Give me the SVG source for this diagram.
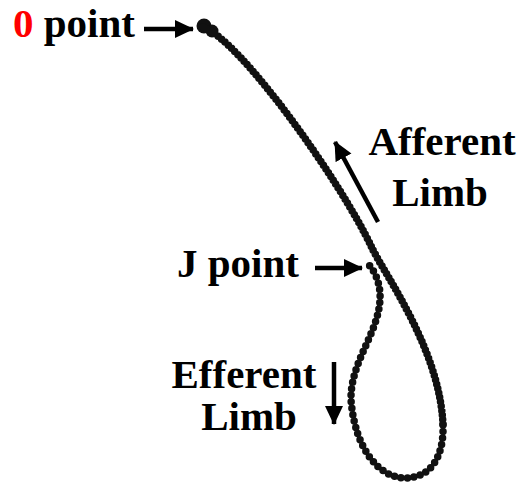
<svg xmlns="http://www.w3.org/2000/svg" width="528" height="492" viewBox="0 0 528 492">
<style>
.lbl{font-family:"Liberation Serif","Times New Roman",serif;font-weight:bold;font-size:41px;fill:#000}
.red{fill:#ff0000}
.arr{stroke:#000;stroke-width:4.5;fill:none}
.trace{fill:none;stroke:#111;stroke-linecap:round;stroke-linejoin:round}
</style>
<defs>
<marker id="ah" markerUnits="userSpaceOnUse" markerWidth="20" markerHeight="20" viewBox="0 0 20 20" refX="18" refY="10" orient="auto">
<path d="M0,1 L19,10 L0,19 Z" fill="#000"/>
</marker>
</defs>
<rect width="528" height="492" fill="#fff"/>
<g id="trace">
<circle cx="204" cy="26" r="7.5" fill="#111"/>
<circle cx="212" cy="31" r="6.5" fill="#111"/>
<path class="trace" stroke-width="7.5" stroke-dasharray="0 4.5" d="M203,27 C240,40 340,180 372,248 C385,275 440,350 443,425"/>
<path class="trace" stroke-width="7.5" stroke-dasharray="0 6.5" d="M443,425 C444,455 432,478 405,478 C380,478 355,450 351,400 C350,360 382,330 380,293 C379,280 374,270 368,264"/>
</g>
<g id="zero-point">
<text class="lbl" x="13" y="37"><tspan class="red">0</tspan> point</text>
</g>
<g id="afferent-limb">
<text class="lbl" x="442" y="155" text-anchor="middle">Afferent</text>
<text class="lbl" x="440" y="206" text-anchor="middle">Limb</text>
</g>
<g id="j-point">
<text class="lbl" x="177" y="277">J point</text>
</g>
<g id="efferent-limb">
<text class="lbl" x="244" y="388" text-anchor="middle">Efferent</text>
<text class="lbl" x="249" y="430" text-anchor="middle">Limb</text>
</g>
<g id="connectors">
<line class="arr" x1="144" y1="29" x2="193" y2="29" marker-end="url(#ah)"/>
<line class="arr" x1="378" y1="222" x2="335" y2="142" marker-end="url(#ah)"/>
<line class="arr" x1="315" y1="268" x2="362" y2="268" marker-end="url(#ah)"/>
<line class="arr" x1="334" y1="362" x2="334" y2="424" marker-end="url(#ah)"/>
</g>
</svg>
